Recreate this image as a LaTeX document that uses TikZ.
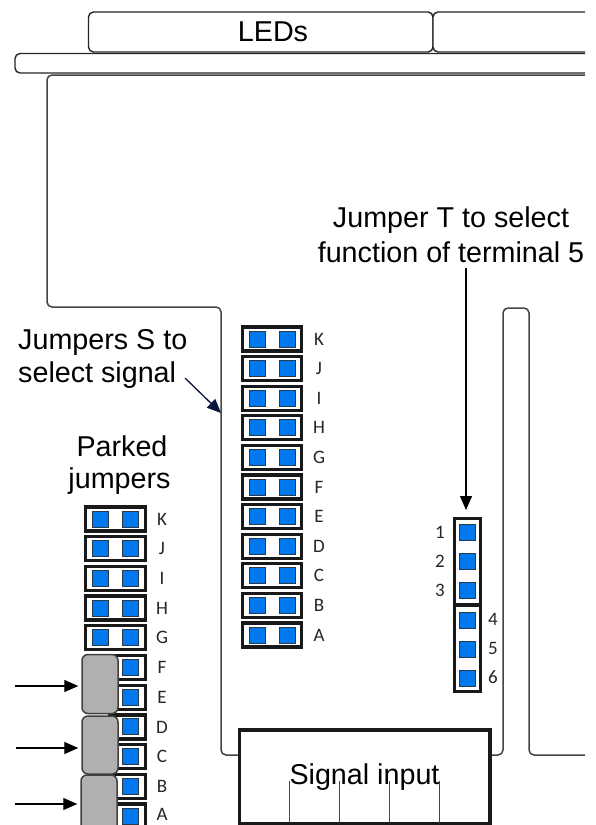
\documentclass[tikz,border=0pt]{standalone}
\usepackage{fontspec}
\setmainfont{Liberation Sans}
\newfontfamily\lblfont{Carlito}
\usetikzlibrary{arrows.meta}
\definecolor{padblue}{HTML}{0078EE}
\definecolor{padedge}{HTML}{2A3A4A}
\definecolor{linegrey}{HTML}{444444}
\definecolor{parkgrey}{HTML}{B0B0B0}
\definecolor{navyarrow}{HTML}{0A1440}
\tikzset{
  x=1pt,y=-1pt,
  outline/.style={draw=linegrey,line width=1.5pt,rounded corners=5pt},
  topbox/.style={draw=black!85,line width=1.4pt,fill=white,rounded corners=5pt},
  jumperbox/.style={draw=black!90,line width=3.3pt,fill=white},
  pad/.style={draw=padedge,line width=1pt,fill=padblue,minimum size=16pt,inner sep=0pt,outer sep=0pt},
  parked/.style={draw=black!75,line width=1.5pt,fill=parkgrey,rounded corners=6pt},
  big/.style={font=\fontsize{28.7}{33}\selectfont,inner sep=0pt,text=black},
  lbl/.style={font=\lblfont\fontsize{19}{22}\selectfont,inner sep=0pt,text=black!85},
  arrowline/.style={draw=black,line width=1.3pt,-{Triangle[length=14pt,width=12pt]}},
  pinline/.style={draw=linegrey,line width=1pt},
}
\begin{document}
\begin{tikzpicture}
\useasboundingbox (0,0) rectangle (595,825);
\fill[white] (0,0) rectangle (595,825);

% top boxes, running off the drawing on the right
\draw[topbox] (585,53.5) -- (15,53.5) -- (15,73) -- (585,73);
\draw[topbox] (88.5,12) rectangle (433,52);
\draw[topbox] (585,12) -- (433,12) -- (433,52) -- (585,52);
\node[big] (leds) at (273,32) {LEDs};

% board outline
\draw[outline] (585,75) -- (47,75) -- (47,307) -- (221,307) -- (221,755) -- (239,755);
\draw[outline] (490,755) -- (503,755) -- (503,308) -- (529,308) -- (529,755) -- (585,755);

% central jumpers S
\foreach \n/\i in {K/0,J/1,I/2,H/3,G/4,F/5,E/6,D/7,C/8,B/9,A/10}{
  \pgfmathsetmacro{\yy}{339+29.6*\i}
  \draw[jumperbox] (242.5,\yy-12) rectangle (301.5,\yy+12);
  \node[pad] (s\n a) at (257.5,\yy) {};
  \node[pad] (s\n b) at (287.5,\yy) {};
  \node[lbl] (sl\n) at (319,\yy) {\n};
}

% parked jumpers, complete pairs
\foreach \n/\i in {K/0,J/1,I/2,H/3,G/4}{
  \pgfmathsetmacro{\yy}{519+29.7*\i}
  \draw[jumperbox] (85.5,\yy-12) rectangle (145.5,\yy+12);
  \node[pad] (p\n a) at (100.5,\yy) {};
  \node[pad] (p\n b) at (130.5,\yy) {};
  \node[lbl] (pl\n) at (162,\yy) {\n};
}
% parked jumpers under the grey caps
\begin{scope}
\clip (0,0) rectangle (595,825);
\foreach \n/\i in {F/5,E/6,D/7,C/8,B/9}{
  \pgfmathsetmacro{\yy}{519+29.7*\i}
  \draw[jumperbox] (110,\yy-12) rectangle (145.5,\yy+12);
  \node[pad] (p\n b) at (130.5,\yy) {};
  \node[lbl] (pl\n) at (162,\yy) {\n};
}
\draw[jumperbox] (110,804) rectangle (145.5,830);
\node[pad] (pAb) at (130.5,816) {};
\node[lbl] (plA) at (162,814.5) {A};
\node[parked,minimum width=36pt,minimum height=59pt,inner sep=0pt] (capa) at (100,684) {};
\node[parked,minimum width=36pt,minimum height=58pt,inner sep=0pt] (capb) at (100,745) {};
\node[parked,minimum width=36pt,minimum height=70pt,inner sep=0pt] (capc) at (99,810) {};
\end{scope}

% jumper T
\draw[jumperbox] (454.5,518.5) rectangle (480.5,605);
\draw[jumperbox] (454.5,605) rectangle (480.5,691.5);
\foreach \n/\yy in {1/532.5,2/561.5,3/590.5,4/620.5,5/649,6/678}{
  \node[pad] (t\n) at (467.5,\yy) {};
}
\node[lbl] (tl1) at (440,532) {1};
\node[lbl] (tl2) at (440,561) {2};
\node[lbl] (tl3) at (440,590) {3};
\node[lbl] (tl4) at (493,619) {4};
\node[lbl] (tl5) at (493,648) {5};
\node[lbl] (tl6) at (493,677) {6};

% signal input
\draw[draw=black!90,line width=3.3pt,fill=white] (239.5,730) rectangle (490,824);
\node[big] (sig) at (364.5,777) {Signal input};
\foreach \xx in {289,339,389,439}{
  \draw[pinline] (\xx,781) -- (\xx,823);
}

% annotations
\node[big,anchor=west] (js1) at (18,342) {Jumpers S to};
\node[big,anchor=west] (js2) at (18,375) {select signal};
\node[big] (pk1) at (122,446) {Parked};
\node[big] (pk2) at (119.5,481) {jumpers};
\node[big] (jt1) at (451,220) {Jumper T to select};
\node[big] (jt2) at (451,252) {function of terminal 5};

\coordinate (jsend) at (185,378);
\coordinate (jstip) at (221,413);
\draw[arrowline,draw=navyarrow] (jsend) -- (jstip);
\coordinate (jtstart) at (466,268);
\coordinate (jttip) at (466,510);
\draw[arrowline] (jtstart) -- (jttip);

\coordinate (a1) at (15,686);
\coordinate (a2) at (16,748);
\coordinate (a3) at (15,804);
\draw[arrowline] (a1) -- ([xshift=-3pt]capa.west |- a1);
\draw[arrowline] (a2) -- ([xshift=-3pt]capb.west |- a2);
\draw[arrowline] (a3) -- ([xshift=-3pt]capc.west |- a3);
\end{tikzpicture}
\end{document}
